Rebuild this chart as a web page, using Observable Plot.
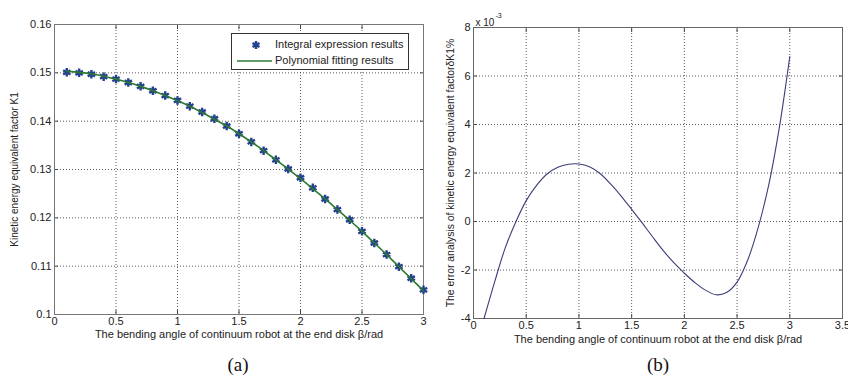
<!DOCTYPE html>
<html><head><meta charset="utf-8">
<script src="https://cdn.jsdelivr.net/npm/d3@7"></script>
<script src="https://cdn.jsdelivr.net/npm/@observablehq/plot@0.6"></script>
<style>
body{margin:0;background:#fff;}
#wrap{position:relative;width:848px;height:378px;overflow:hidden;font-family:"Liberation Sans",Arial,sans-serif;}
#wrap svg{position:absolute;top:0;}
.cap{position:absolute;font-family:"Liberation Serif","Times New Roman",serif;font-size:19px;color:#111;transform:translate(-50%,-50%);}
#legend{position:absolute;left:231px;top:33px;width:176px;height:35px;border:1px solid #333;background:#fff;font-size:11px;color:#222;}
#legend .row{position:absolute;left:0;height:16px;width:176px;}
#legend .row span{position:absolute;left:43px;top:1px;white-space:nowrap;}
#legend .row svg{position:absolute;left:4px;top:0;}
</style></head><body><div id="wrap"></div>
<script>
// Panel (a): integral expression results and polynomial fitting
const beta = [0.1,0.2,0.3,0.4,0.5,0.6,0.7,0.8,0.9,1.0,1.1,1.2,1.3,1.4,1.5,1.6,1.7,1.8,1.9,2.0,2.1,2.2,2.3,2.4,2.5,2.6,2.7,2.8,2.9,3.0];
const k1 = [0.1501,0.1500,0.1497,0.1492,0.1487,0.1480,0.1472,0.1463,0.1453,0.1443,0.1431,0.1419,0.1405,0.1390,0.1374,0.1357,0.1339,0.1320,0.1301,0.1283,0.1262,0.1239,0.1217,0.1196,0.1172,0.1148,0.1124,0.1099,0.1075,0.1051];
const fitK1 = [0.1503,0.1501,0.1498,0.1493,0.1487,0.1480,0.1472,0.1463,0.1453,0.1442,0.1431,0.1418,0.1404,0.1390,0.1374,0.1357,0.1339,0.1320,0.1301,0.1281,0.1260,0.1239,0.1217,0.1195,0.1172,0.1148,0.1124,0.1099,0.1074,0.1049];
// Panel (b): error analysis (values in units of 1e-3)
const errBeta = [0.1,0.2,0.3,0.4,0.5,0.6,0.7,0.8,0.9,1.0,1.1,1.2,1.3,1.4,1.5,1.6,1.7,1.8,1.9,2.0,2.1,2.2,2.3,2.4,2.5,2.6,2.7,2.8,2.9,3.0];
const errE3 = [-4.0,-2.5,-1.1,-0.03,0.86,1.5,1.97,2.24,2.36,2.37,2.26,1.98,1.55,1.05,0.5,-0.06,-0.64,-1.2,-1.7,-2.13,-2.52,-2.83,-3.02,-2.93,-2.5,-1.6,-0.25,1.5,3.85,6.8];
// tick values
const ticksXa = [0,0.5,1,1.5,2,2.5,3];
const ticksYa = [0.1,0.11,0.12,0.13,0.14,0.15,0.16];
const ticksXb = [0,0.5,1,1.5,2,2.5,3,3.5];
const ticksYb = [-4,-2,0,2,4,6,8];
// text
const xLabel = "The bending angle of continuum robot at the end disk \u03b2/rad";
const yLabelA = "Kinetic energy equivalent factor K1";
const yLabelB = "The error analysis of kinetic energy equivalent factor\u03b4K1%";
const legendLabels = ["Integral expression results", "Polynomial fitting results"];

const wrap = document.getElementById("wrap");
const font = {fontFamily: "'Liberation Sans', Arial, sans-serif", fontSize: "11px", color: "#222", background: "transparent", overflow: "visible"};
const gridStyle = {stroke: "#222", strokeOpacity: 0.75, strokeDasharray: "1,2"};
const fmt = d => String(d);

function frameAxes(tx, ty, frameColor) {
  return [
    Plot.gridX(tx, gridStyle),
    Plot.gridY(ty, gridStyle),
    Plot.axisX(tx, {anchor: "bottom", tickSize: -4, tickPadding: 7, tickFormat: fmt, stroke: "#444"}),
    Plot.axisX(tx, {anchor: "top", tickSize: -4, tickFormat: () => "", stroke: "#444"}),
    Plot.axisY(ty, {anchor: "left", tickSize: -4, tickPadding: 7, tickFormat: fmt, stroke: "#444"}),
    Plot.axisY(ty, {anchor: "right", tickSize: -4, tickFormat: () => "", stroke: "#444"}),
    Plot.frame({stroke: frameColor})
  ];
}

const dataA = beta.map((b, i) => ({b, k: k1[i], f: fitK1[i]}));
const pa = Plot.plot({
  width: 430, height: 345,
  marginLeft: 54, marginRight: 7, marginTop: 24, marginBottom: 31,
  style: font,
  x: {domain: [0, 3], label: null},
  y: {domain: [0.1, 0.16], label: null},
  marks: [
    ...frameAxes(ticksXa, ticksYa, "#777"),
    Plot.dot(dataA, {x: "b", y: "k", symbol: "asterisk", r: 4, stroke: "#24408f", strokeWidth: 2.4}),
    Plot.line(dataA, {x: "b", y: "f", stroke: "#2c7a33", strokeWidth: 1.6, curve: "catmull-rom"}),
    Plot.text([yLabelA], {text: d => d, frameAnchor: "left", textAnchor: "middle", dx: -40, rotate: -90, fontSize: 10, fill: "#222"}),
    Plot.text([xLabel], {text: d => d, frameAnchor: "bottom", dy: 23, fill: "#222"})
  ]
});
pa.style.left = "0px";
wrap.appendChild(pa);

const dataB = errBeta.map((b, i) => ({b, e: errE3[i]}));
const pb = Plot.plot({
  width: 428, height: 348,
  marginLeft: 53, marginRight: 6, marginTop: 27, marginBottom: 30,
  style: font,
  x: {domain: [0, 3.5], label: null},
  y: {domain: [-4, 8], label: null},
  marks: [
    ...frameAxes(ticksXb, ticksYb, "#666"),
    Plot.line(dataB, {x: "b", y: "e", stroke: "#3b3f78", strokeWidth: 1.1, curve: "catmull-rom"}),
    Plot.text([yLabelB], {text: d => d, frameAnchor: "left", textAnchor: "middle", dx: -23, rotate: -90, fontSize: 10.4, fill: "#222"}),
    Plot.text([xLabel], {text: d => d, frameAnchor: "bottom", dy: 24, fill: "#222"}),
    Plot.text(["x 10"], {text: d => d, frameAnchor: "top-left", textAnchor: "start", dx: 2, dy: -9, fontSize: 10, fill: "#222"}),
    Plot.text(["-3"], {text: d => d, frameAnchor: "top-left", textAnchor: "start", dx: 22, dy: -14, fontSize: 7, fill: "#222"})
  ]
});
pb.style.left = "420px";
wrap.appendChild(pb);

// legend for panel (a)
const legend = document.createElement("div");
legend.id = "legend";
legend.innerHTML =
  `<div class="row" style="top:3px"><svg width="36" height="16"><g stroke="#24408f" stroke-width="2.4"><line x1="20" y1="4" x2="20" y2="12"/><line x1="16.5" y1="6" x2="23.5" y2="10"/><line x1="16.5" y1="10" x2="23.5" y2="6"/></g></svg><span>${legendLabels[0]}</span></div>` +
  `<div class="row" style="top:19px"><svg width="36" height="16"><line x1="1" y1="8" x2="37" y2="8" stroke="#2c7a33" stroke-width="1.6"/></svg><span>${legendLabels[1]}</span></div>`;
wrap.appendChild(legend);

const ca = document.createElement("div");
ca.className = "cap"; ca.textContent = "(a)"; ca.style.left = "238px"; ca.style.top = "365px";
wrap.appendChild(ca);
const cb = document.createElement("div");
cb.className = "cap"; cb.textContent = "(b)"; cb.style.left = "658px"; cb.style.top = "365px";
wrap.appendChild(cb);
</script>
</body></html>
